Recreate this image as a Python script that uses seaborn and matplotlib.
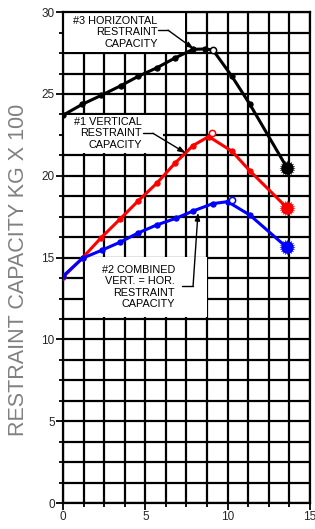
import numpy as np
import pandas as pd
import matplotlib
matplotlib.use("Agg")
import matplotlib.pyplot as plt
import seaborn as sns
from matplotlib.patches import Rectangle

sns.set_style("white")
plt.rcParams['font.family'] = ['Liberation Sans', 'DejaVu Sans']

# readings (x: 0..15, y: kg x 100)
horiz_x = [0, 1.17, 2.33, 3.5, 4.57, 5.7, 6.8, 7.9, 8.6, 9.1, 10.26, 11.35, 13.6]
horiz_y = [23.7, 24.37, 24.92, 25.5, 26.08, 26.6, 27.2, 27.73, 27.75, 27.7, 26.08, 24.37, 20.5]
vert_x = [0, 1.2, 2.3, 3.46, 4.55, 5.7, 6.8, 7.9, 8.85, 10.26, 11.35, 13.6]
vert_y = [13.8, 15.0, 16.2, 17.35, 18.45, 19.55, 20.77, 21.85, 22.4, 21.5, 20.3, 18.05]
comb_x = [0, 1.2, 2.35, 3.46, 4.55, 5.7, 6.85, 7.9, 9.1, 10.0, 11.35, 13.6]
comb_y = [13.87, 14.97, 15.45, 15.94, 16.5, 17.0, 17.4, 17.85, 18.3, 18.42, 17.6, 15.62]

# open circles at the peaks
peak_x = [9.1, 9.05, 10.26]
peak_y = [27.7, 22.6, 18.5]
colors = ["black", "red", "blue"]

labels = ["#3 HORIZONTAL\nRESTRAINT\nCAPACITY",
          "#1 VERTICAL\nRESTRAINT\nCAPACITY",
          "#2 COMBINED\nVERT. = HOR.\nRESTRAINT\nCAPACITY"]

fig = plt.figure(figsize=(3.15, 5.29), dpi=100)
ax = fig.add_axes([0.2, 0.049, 0.784, 0.928])

ax.set_xlim(0, 15)
ax.set_ylim(0, 30)
ax.set_xticks([0, 5, 10, 15])
ax.set_yticks(np.arange(0, 31, 5))
ax.set_xticks(np.arange(0, 15.01, 1.25), minor=True)
ax.set_yticks(np.arange(0, 30.01, 1.25), minor=True)
ax.grid(which="both", color="black", lw=1.6)
ax.set_axisbelow(True)
for s in ax.spines.values():
    s.set_color("black")
    s.set_linewidth(1.6)
ax.tick_params(which="major", length=5, width=1.3, color="black",
               labelsize=8.5, pad=1, left=True, bottom=True)
ax.tick_params(which="minor", length=3, width=1.3, color="black",
               left=True, bottom=True)

# white label boxes over the grid
boxes = [(0, 27.55, 7.4, 2.45), (0, 21.4, 6.07, 2.3), (1.34, 11.36, 7.4, 3.7)]
for bx, by, bw, bh in boxes:
    ax.add_patch(Rectangle((bx, by), bw, bh, facecolor="white", edgecolor="none", zorder=2))

series = [(horiz_x, horiz_y), (vert_x, vert_y), (comb_x, comb_y)]
for (xs, ys), c in zip(series, colors):
    d = pd.DataFrame({"x": xs, "y": ys})
    sns.lineplot(data=d, x="x", y="y", color=c, lw=2.2, marker="o", ms=3.8,
                 mec=c, sort=False, ax=ax, zorder=4)
    ax.plot(xs[-1], ys[-1], marker=(20, 2, 0), ms=11, mew=0.4, color=c, alpha=0.6, zorder=5)
    ax.plot(xs[-1], ys[-1], marker="o", ms=8, color=c, zorder=6)
for px, py, c in zip(peak_x, peak_y, colors):
    ax.plot(px, py, marker="o", ms=4.5, mfc="white", mec=c, mew=1.1, zorder=6)

# text and leaders
txt = dict(fontsize=7.8, ha="right", va="center", multialignment="right",
           linespacing=1.2, color="black", zorder=7)
ax.text(5.75, 28.77, labels[0], **txt)
ax.text(4.8, 22.6, labels[1], **txt)
ax.text(6.8, 13.2, labels[2], **txt)

leaders = [((5.8, 28.9), (6.38, 28.9), (7.95, 27.75)),
           ((4.86, 22.6), (5.46, 22.6), (7.47, 21.38)),
           ((7.23, 13.26), (7.9, 13.26), (8.2, 17.75))]
for start, elbow, tip in leaders:
    ax.plot([start[0], elbow[0]], [start[1], elbow[1]], color="black", lw=1, zorder=7)
    ax.annotate("", xy=tip, xytext=elbow, zorder=7,
                arrowprops=dict(arrowstyle="-|>,head_length=0.45,head_width=0.15",
                                color="black", lw=1, shrinkA=0, shrinkB=0))

ax.set_xlabel("")
ax.set_ylabel("")
fig.text(0.06, 0.49, "RESTRAINT CAPACITY KG X 100", rotation=90,
         ha="center", va="center", fontsize=15.5, color="#808080")

fig.savefig("out.png", dpi=100)
